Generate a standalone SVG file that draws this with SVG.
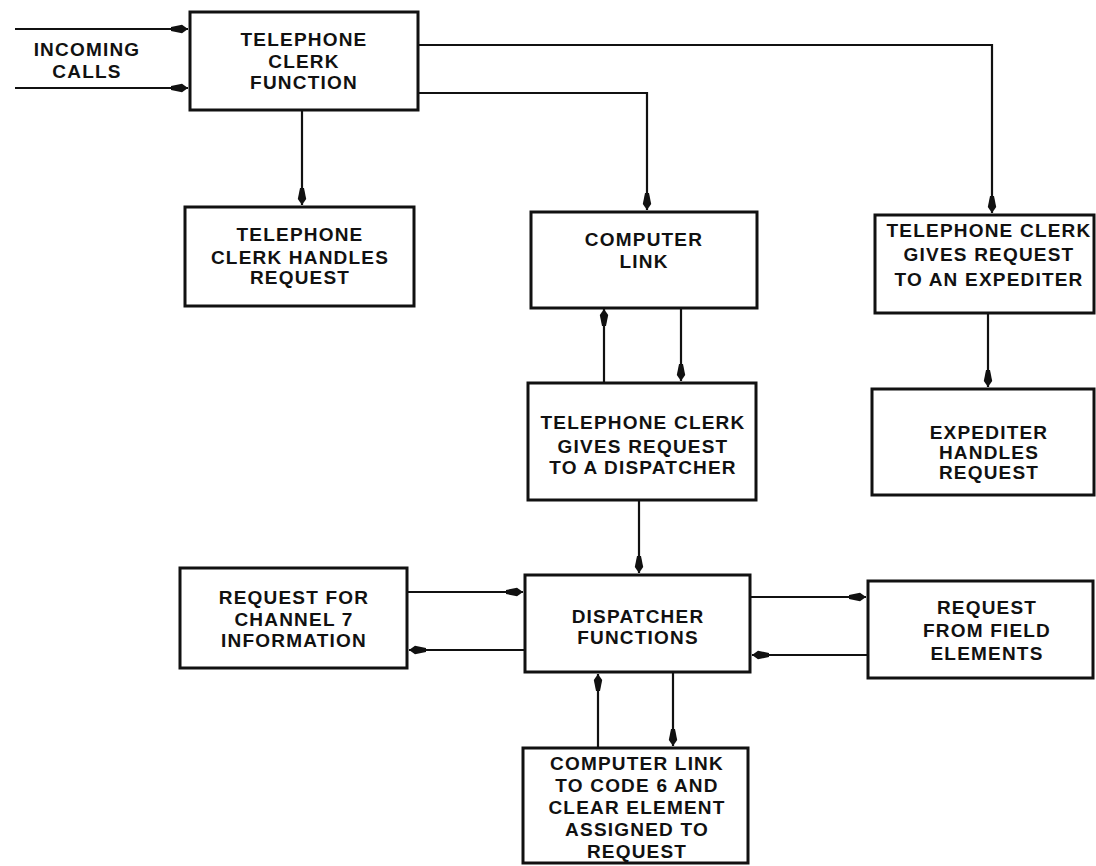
<svg xmlns="http://www.w3.org/2000/svg" width="1096" height="866" viewBox="0 0 1096 866">
<style>
.box{fill:#fff;stroke:#111;stroke-width:3}
.t{font-family:"Liberation Sans",Arial,sans-serif;font-weight:bold;font-size:19px;letter-spacing:1.2px;fill:#111;text-anchor:middle}
.c{fill:none;stroke:#111;stroke-width:2.2;marker-end:url(#ah)}
</style>
<defs>
<marker id="ah" markerUnits="userSpaceOnUse" markerWidth="22" markerHeight="12" viewBox="-19 -6 20 12" refX="0" refY="0" orient="auto">
<path d="M0,0 L-6,-4.2 L-17,-2 L-17,2 L-6,4.2 Z" fill="#111"/>
</marker>
</defs>
<rect width="1096" height="866" fill="#fff"/>
<g id="connectors">
<path class="c" d="M15,29 H188"/>
<path class="c" d="M15,88 H188"/>
<path class="c" d="M302,111 V205"/>
<path class="c" d="M418,93 H647 V210"/>
<path class="c" d="M418,45 H992 V213"/>
<path class="c" d="M988,314 V387"/>
<path class="c" d="M604,382 V309"/>
<path class="c" d="M681,308 V381"/>
<path class="c" d="M639,501 V573"/>
<path class="c" d="M408,592 H523"/>
<path class="c" d="M525,650 H409"/>
<path class="c" d="M751,597 H866"/>
<path class="c" d="M868,655 H752"/>
<path class="c" d="M598,747 V674"/>
<path class="c" d="M673,673 V746"/>
</g>
<g id="incoming">
<text class="t" x="87" y="56">INCOMING</text>
<text class="t" x="87" y="78">CALLS</text>
</g>
<g id="telephone-clerk-function">
<rect class="box" x="190" y="12" width="228" height="98"/>
<text class="t" x="304" y="46">TELEPHONE</text>
<text class="t" x="304" y="68">CLERK</text>
<text class="t" x="304" y="89">FUNCTION</text>
</g>
<g id="clerk-handles">
<rect class="box" x="185" y="207" width="229" height="99"/>
<text class="t" x="300" y="241">TELEPHONE</text>
<text class="t" x="300" y="264">CLERK HANDLES</text>
<text class="t" x="300" y="284">REQUEST</text>
</g>
<g id="computer-link">
<rect class="box" x="531" y="212" width="226" height="96"/>
<text class="t" x="644" y="246">COMPUTER</text>
<text class="t" x="644" y="268">LINK</text>
</g>
<g id="clerk-to-expediter">
<rect class="box" x="875" y="215" width="219" height="98"/>
<text class="t" x="989" y="237">TELEPHONE CLERK</text>
<text class="t" x="989" y="261">GIVES REQUEST</text>
<text class="t" x="989" y="286">TO AN EXPEDITER</text>
</g>
<g id="expediter-handles">
<rect class="box" x="872" y="389" width="222" height="106"/>
<text class="t" x="989" y="439">EXPEDITER</text>
<text class="t" x="989" y="459">HANDLES</text>
<text class="t" x="989" y="479">REQUEST</text>
</g>
<g id="clerk-to-dispatcher">
<rect class="box" x="528" y="383" width="228" height="117"/>
<text class="t" x="643" y="429">TELEPHONE CLERK</text>
<text class="t" x="643" y="453">GIVES REQUEST</text>
<text class="t" x="643" y="474">TO A DISPATCHER</text>
</g>
<g id="dispatcher-functions">
<rect class="box" x="525" y="575" width="225" height="97"/>
<text class="t" x="638" y="623">DISPATCHER</text>
<text class="t" x="638" y="644">FUNCTIONS</text>
</g>
<g id="channel7">
<rect class="box" x="180" y="568" width="227" height="100"/>
<text class="t" x="294" y="604">REQUEST FOR</text>
<text class="t" x="294" y="626">CHANNEL 7</text>
<text class="t" x="294" y="647">INFORMATION</text>
</g>
<g id="field-elements">
<rect class="box" x="868" y="581" width="225" height="97"/>
<text class="t" x="987" y="614">REQUEST</text>
<text class="t" x="987" y="637">FROM FIELD</text>
<text class="t" x="987" y="660">ELEMENTS</text>
</g>
<g id="code6">
<rect class="box" x="523" y="748" width="225" height="115"/>
<text class="t" x="637" y="770">COMPUTER LINK</text>
<text class="t" x="637" y="792">TO CODE 6 AND</text>
<text class="t" x="637" y="814">CLEAR ELEMENT</text>
<text class="t" x="637" y="836">ASSIGNED TO</text>
<text class="t" x="637" y="858">REQUEST</text>
</g>
</svg>
